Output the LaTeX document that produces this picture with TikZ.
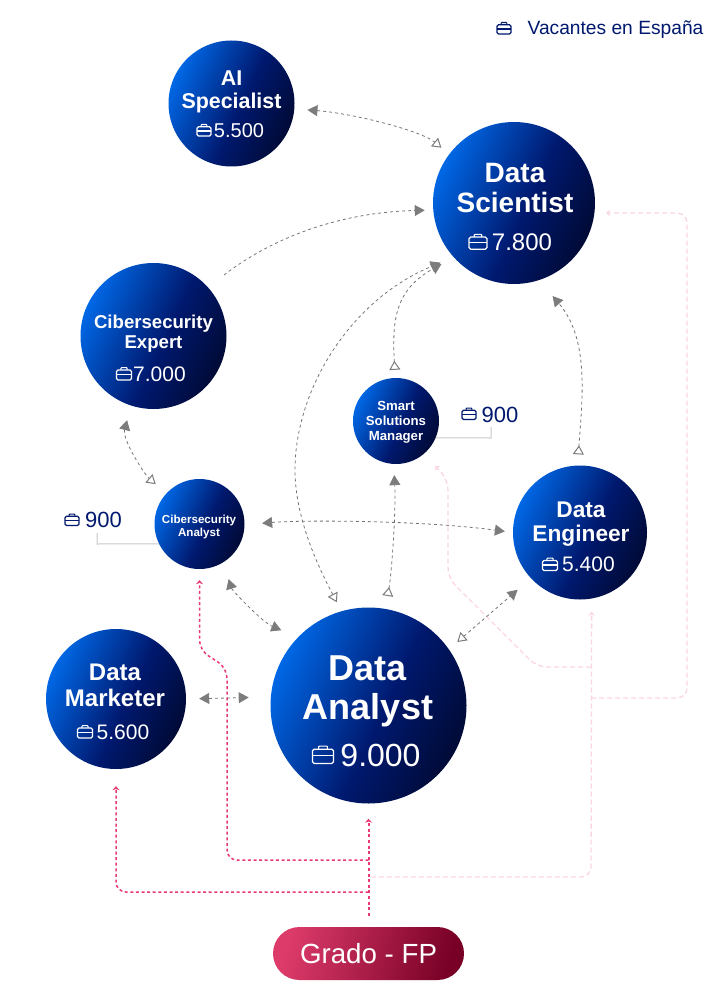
\documentclass[tikz,border=0pt]{standalone}
\usepackage{fontspec}
\setmainfont{Liberation Sans}
\usetikzlibrary{arrows.meta}
\definecolor{cA}{HTML}{0068E6}
\definecolor{cB}{HTML}{00196F}
\definecolor{cC}{HTML}{000A36}
\definecolor{navy}{HTML}{00186E}
\definecolor{gA}{HTML}{DD3B6A}
\definecolor{gB}{HTML}{780026}
\definecolor{lineg}{HTML}{747474}
\definecolor{tipg}{HTML}{7C7C7C}
\definecolor{pinkS}{HTML}{E83A70}
\definecolor{pinkL}{HTML}{FBD6E2}
\definecolor{leadg}{HTML}{C8C8C8}
\pgfdeclarehorizontalshading{bluegrad}{100bp}{color(0bp)=(cA); color(25bp)=(cA); color(54bp)=(cB); color(75bp)=(cC); color(100bp)=(cC)}
\pgfdeclarehorizontalshading{redgrad}{100bp}{color(0bp)=(gA); color(25bp)=(gA); color(75bp)=(gB); color(100bp)=(gB)}
\tikzset{
  circ/.style={circle,inner sep=0pt,minimum size=#1,shading=bluegrad,shading angle=-25},
  ttl/.style={text=white,align=center,inner sep=0pt},
  val/.style={text=white,anchor=mid,inner sep=0pt},
  val900/.style={text=navy,anchor=mid,inner sep=0pt},
  conn/.style={draw=lineg,line width=0.8pt,dash pattern=on 3pt off 3pt},
  tipF/.tip={Triangle[length=10pt,width=11pt,color=tipg]},
  tipO/.tip={Triangle[open,length=9pt,width=11pt,color=tipg,fill=white,line width=1pt]},
  tipR/.tip={Triangle[open,reversed,length=9pt,width=11pt,color=tipg,fill=white,line width=1pt]},
  pinkS line/.style={draw=pinkS,line width=1.5pt,dash pattern=on 3pt off 2.6pt,rounded corners=10pt,-{Stealth[length=4pt,width=7pt]}},
  pinkL line/.style={draw=pinkL,line width=1.3pt,dash pattern=on 5pt off 3pt,rounded corners=10pt,-{Stealth[length=4pt,width=7pt]}},
  lead/.style={draw=leadg,line width=1pt},
  brief/.pic={
    \draw[line width=1.25pt,rounded corners=1.6pt] (-1,-0.55) rectangle (1,0.8);
    \draw[line width=1.1pt,rounded corners=0.8pt] (-0.42,-0.55) -- (-0.42,-0.85) -- (0.42,-0.85) -- (0.42,-0.55);
    \draw[line width=1.25pt] (-1,0.08) -- (1,0.08);
  }
}
\begin{document}
\begin{tikzpicture}[x=1pt,y=-1pt]
\useasboundingbox (0,0) rectangle (720,1000);
% circles
\node[circ=126pt] (ai) at (231.5,103.5) {};
\node[circ=162pt] (ds) at (514,203) {};
\node[circ=146pt] (ce) at (153.5,336) {};
\node[circ=86pt] (sm) at (396,421) {};
\node[circ=90pt] (ca) at (199.5,524) {};
\node[circ=134pt] (de) at (580,532.5) {};
\node[circ=140pt] (dm) at (116,699) {};
\node[circ=196pt] (da) at (368.5,705.5) {};
\node[rounded corners=26.5pt,minimum width=191pt,minimum height=53pt,inner sep=0pt,shading=redgrad,shading angle=-15,text=white,font=\fontsize{27.7}{30}\selectfont] (gr) at (368.5,953.5) {Grado - FP};
% junctions
\coordinate (j1) at (368.5,860);
\coordinate (j2) at (368.5,892);
\coordinate (j3) at (371,877);
\coordinate (j4) at (591,698);
\coordinate (j5) at (591,667);
\coordinate (cefree) at (224,275);
\coordinate (l1) at (491,427);
\coordinate (l2) at (97,533);
% light pink
\draw[pinkL line,shorten >=13pt] (j3) -- (591,877) -- (de.-80.6);
\draw[pinkL line,shorten >=11.5pt] (j4) -- (687,698) -- (687,213) -- (ds.-7);
\draw[pinkL line,shorten >=16.5pt] (j5) -- (537,667) -- (448,578) -- (448,480) -- (sm.-49);
% strong pink
\draw[pinkS line,line width=2pt,shorten <=11pt,shorten >=15pt] (gr.north) -- (da.south);
\draw[pinkS line,shorten >=11pt] (j1) -- (227,860) -- (227,668) -- (199.5,650) -- (ca.south);
\draw[pinkS line,shorten >=17pt] (j2) -- (116,892) -- (dm.south);
% grey connectors
\draw[conn,{tipF}-{tipO},shorten <=13pt,shorten >=10pt] (ai.-5) .. controls (350,113) and (420,130) .. (ds.143.5);
\draw[conn,-{tipF},shorten >=8.4pt] (cefree) .. controls (280,232) and (350,212) .. (ds.185);
\draw[conn,{tipF}-{tipO},shorten <=15pt,shorten >=14pt] (ce.-108) .. controls (122,440) and (145,475) .. (ca.137.2);
\draw[conn,{tipF}-{tipF},shorten <=17.5pt,shorten >=8pt] (ca.-1) .. controls (300,520) and (420,520) .. (de.180);
\draw[conn,{tipF}-{tipF},shorten <=17.5pt,shorten >=18pt] (ca.-58.5) .. controls (232,590) and (262,622) .. (da.136.9);
\draw[conn,{tipF}-{tipF},shorten <=13pt,shorten >=22pt] (dm.0.8) -- (da.175.6);
\draw[conn,{tipO}-{tipF},shorten <=10pt,shorten >=14pt] (da.106.4) .. controls (320,570) and (295,520) .. (295,470) .. controls (295,390) and (350,300) .. (ds.222);
\draw[conn,{tipR}-{tipF},shorten <=8pt,shorten >=14pt] (sm.91) .. controls (392,320) and (395,290) .. (ds.222);
\draw[conn,{tipR}-{tipF},shorten <=13pt,shorten >=11pt] (da.80.6) .. controls (392,570) and (396,510) .. (sm.-93.2);
\draw[conn,{tipO}-{tipF},shorten <=11pt,shorten >=17.5pt] (da.35.2) -- (de.223.8);
\draw[conn,{tipR}-{tipF},shorten <=11pt,shorten >=20.8pt] (de.92) .. controls (582,400) and (590,340) .. (ds.-72);
% leaders
\draw[lead] (l1) -- (491,438) -- (sm.-23.3);
\draw[lead] (l2) -- (97,544) -- (ca.206.4);
% header
\pic[color=navy,scale=7] at (504,28.5) {brief};
\node[text=navy,anchor=mid,inner sep=0pt,font=\fontsize{19.2}{22}\selectfont] (leg) at (615.5,32) {Vacantes en España};
% titles
\node[ttl,font=\bfseries\fontsize{21.4}{22.5}\selectfont] (ait) at (231.5,92) {AI\\Specialist};
\node[ttl,font=\bfseries\fontsize{28}{30}\selectfont] (dst) at (515,188) {Data\\Scientist};
\node[ttl,font=\bfseries\fontsize{18.6}{20}\selectfont] (cet) at (153.5,334) {Cibersecurity\\Expert};
\node[ttl,font=\bfseries\fontsize{13.2}{14.8}\selectfont] (smt) at (396,422.5) {Smart\\Solutions\\Manager};
\node[ttl,font=\bfseries\fontsize{11.6}{12.4}\selectfont] (cat) at (199,527) {Cibersecurity\\Analyst};
\node[ttl,font=\bfseries\fontsize{22.7}{24}\selectfont] (det) at (581,524.5) {Data\\Engineer};
\node[ttl,font=\bfseries\fontsize{24}{26}\selectfont] (dmt) at (115,685) {Data\\Marketer};
\node[ttl,font=\bfseries\fontsize{36}{39}\selectfont] (dat) at (368,691) {Data\\Analyst};
% values
\node[val,font=\fontsize{20}{22}\selectfont] (aiv) at (239,135) {5.500};
\pic[color=white,scale=7] at (204,130.5) {brief};
\node[val,font=\fontsize{24}{26}\selectfont] (dsv) at (522,248) {7.800};
\pic[color=white,scale=9] at (478,242) {brief};
\node[val,font=\fontsize{21}{23}\selectfont] (cev) at (159.5,379) {7.000};
\pic[color=white,scale=7.5] at (124,374) {brief};
\node[val,font=\fontsize{21}{23}\selectfont] (dev) at (588.5,569) {5.400};
\pic[color=white,scale=7.5] at (550,564.5) {brief};
\node[val,font=\fontsize{21}{23}\selectfont] (dmv) at (123,737) {5.600};
\pic[color=white,scale=7.5] at (85,732) {brief};
\node[val,font=\fontsize{32}{34}\selectfont] (dav) at (380.5,764) {9.000};
\pic[color=white,scale=10.5] at (323,755) {brief};
\node[val900,font=\fontsize{22}{24}\selectfont] (smv) at (500,420) {900};
\pic[color=navy,scale=7] at (469,414) {brief};
\node[val900,font=\fontsize{22}{24}\selectfont] (cav) at (103.5,525) {900};
\pic[color=navy,scale=7] at (72,520) {brief};
\end{tikzpicture}
\end{document}
